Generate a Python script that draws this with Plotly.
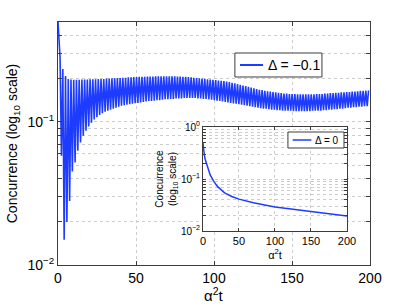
import numpy as np
import plotly.graph_objects as go

# ---------------- data ----------------
# main panel, Delta = -0.1 : alternating local maxima / minima of a fast oscillation
c_start = 0.5          # value at t = 0
t_max0, t_min0, period = 1.325, 2.2, 1.75   # timing of the extrema
c_max = [0.28, 0.235, 0.21, 0.2, 0.198,
         0.197, 0.197, 0.197, 0.198, 0.198, 0.198, 0.199, 0.199, 0.199, 0.2, 0.2, 0.2,
         0.201, 0.201, 0.202, 0.202, 0.203, 0.203, 0.204, 0.204, 0.205, 0.205, 0.206, 0.206,
         0.207, 0.207, 0.207, 0.208, 0.208, 0.208, 0.209, 0.209, 0.209, 0.209, 0.209, 0.209,
         0.209, 0.209, 0.208, 0.208, 0.207, 0.207, 0.206, 0.205, 0.204, 0.203, 0.202, 0.201,
         0.2, 0.199, 0.198, 0.197, 0.196, 0.195, 0.194, 0.193, 0.192, 0.19, 0.188, 0.186,
         0.184, 0.182, 0.18, 0.178, 0.176, 0.174, 0.172, 0.17, 0.168, 0.167, 0.165, 0.164,
         0.163, 0.162, 0.161, 0.16, 0.159, 0.158, 0.158, 0.157, 0.157, 0.157, 0.156, 0.156,
         0.156, 0.156, 0.156, 0.156, 0.156, 0.157, 0.157, 0.157, 0.158, 0.158, 0.159, 0.159,
         0.16, 0.16, 0.161, 0.161, 0.162, 0.162, 0.163, 0.163, 0.164, 0.165, 0.165, 0.166, 0.166]
c_min = [0.058, 0.015, 0.020, 0.028, 0.045, 0.052, 0.063, 0.072, 0.080, 0.087,
         0.093, 0.099, 0.104, 0.108, 0.112, 0.115, 0.118, 0.12, 0.122, 0.124,
         0.126, 0.128, 0.13, 0.131, 0.132, 0.133, 0.134, 0.135, 0.136, 0.137,
         0.138, 0.139, 0.14, 0.14, 0.141, 0.142, 0.142, 0.143, 0.144, 0.144,
         0.145, 0.145, 0.146, 0.146, 0.146, 0.147, 0.147, 0.147, 0.147, 0.147,
         0.146, 0.146, 0.145, 0.145, 0.144, 0.143, 0.142, 0.141, 0.14, 0.139,
         0.138, 0.137, 0.136, 0.135, 0.134, 0.133, 0.132, 0.131, 0.13, 0.129,
         0.128, 0.127, 0.126, 0.125, 0.124, 0.124, 0.123, 0.122, 0.122, 0.121,
         0.121, 0.12, 0.12, 0.12, 0.12, 0.119, 0.119, 0.119, 0.119, 0.119,
         0.119, 0.119, 0.12, 0.12, 0.12, 0.12, 0.121, 0.121, 0.122, 0.122,
         0.123, 0.123, 0.124, 0.124, 0.125, 0.126, 0.126, 0.127, 0.127, 0.128,
         0.128, 0.129, 0.129]

# inset, Delta = 0
t_inset = [0, 0.5, 1, 2, 3, 5, 7, 10, 15, 20, 30, 40, 50, 70, 100, 130, 150, 175, 200]
c_inset = [0.49, 0.40, 0.34, 0.28, 0.24, 0.20, 0.16, 0.12, 0.09, 0.072, 0.054, 0.046,
           0.041, 0.035, 0.029, 0.0255, 0.0235, 0.0215, 0.0195]

main_label = "Δ = −0.1"
inset_label = "Δ = 0"
x_ticks = [0, 50, 100, 150, 200]

# ---------------- build main series ----------------
t_main, c_main = [0.0], [c_start]
for j in range(len(c_max)):
    t_main.append(t_max0 + period * j)
    c_main.append(c_max[j])
    if j < len(c_min):
        t_main.append(t_min0 + period * j)
        c_main.append(c_min[j])

FONT = "Liberation Sans, Arial, Helvetica, sans-serif"
BLUE = "#1e3cff"
AX = "#3c3c3c"
GRID = "#cccccc"


def log_ticks(decades):
    vals, text = [], []
    for d in decades:
        for m in range(1, 10):
            vals.append(m * 10.0 ** d)
            text.append("10<sup>%s</sup>" % (str(d).replace("-", "−")) if m == 1 else " ")
    return vals, text


yv_main, yt_main = log_ticks([-2, -1])
yv_main = yv_main[:14]
yt_main = yt_main[:14]
yv_in, yt_in = log_ticks([-2, -1])
yv_in.append(1.0)
yt_in.append("10<sup>0</sup>")

fig = go.Figure()
fig.add_trace(go.Scatter(x=t_main, y=c_main, mode="lines", name=main_label,
                         line=dict(color=BLUE, width=1.6), showlegend=False))
fig.add_trace(go.Scatter(x=t_inset, y=c_inset, mode="lines", name=inset_label,
                         line=dict(color=BLUE, width=1.5), xaxis="x2", yaxis="y2",
                         showlegend=False))

common = dict(showline=True, linecolor=AX, linewidth=1, mirror="ticks",
              ticks="inside", tickcolor=AX, showgrid=True, gridcolor=GRID,
              griddash="dot", gridwidth=1, zeroline=False, automargin=False)

fig.update_layout(
    width=409, height=304, autosize=False,
    margin=dict(l=58, r=39, t=22, b=39),
    paper_bgcolor="white", plot_bgcolor="white",
    font=dict(family=FONT, color="black"),
    showlegend=False,
    xaxis=dict(range=[0, 200], tickvals=x_ticks, ticklen=4,
               tickfont=dict(size=14), **common),
    yaxis=dict(type="log", range=[-2, np.log10(0.5)], tickvals=yv_main,
               ticktext=yt_main, ticklen=4, tickfont=dict(size=14),
               title=dict(text="Concurrence (log<sub>10</sub> scale)",
                          font=dict(size=14), standoff=6),
               **common),
    xaxis2=dict(domain=[0.4647, 0.9263], anchor="y2", range=[0, 200],
                tickvals=x_ticks, ticklen=3, tickfont=dict(size=11),
                title=dict(text="α<sup>2</sup>t", font=dict(size=11), standoff=0),
                **common),
    yaxis2=dict(domain=[0.1399, 0.5679], anchor="x2", type="log", range=[-2, 0],
                tickvals=yv_in, ticktext=yt_in, ticklen=3, tickfont=dict(size=10),
                title=dict(text="Concurrence<br>(log<sub>10</sub> scale)",
                           font=dict(size=10), standoff=2),
                **common),
)

# main x-axis title, placed tight under the tick labels as in the reference
fig.add_annotation(xref="paper", yref="paper", x=0.5, y=-0.122, text="α<sup>2</sup>t",
                   showarrow=False, xanchor="center", yanchor="middle",
                   font=dict(size=15, color="black"))

# legend boxes drawn by hand (paper coordinates) to match the reference sizes
legends = [
    dict(box=(0.567, 0.7737, 0.846, 0.8724), line=(0.5833, 0.6571), text_x=0.6667,
         label=main_label, size=14, lw=2),
    dict(box=(0.737, 0.4815, 0.9167, 0.5473), line=(0.752, 0.812), text_x=0.818,
         label=inset_label, size=10, lw=1.5),
]
for lg in legends:
    x0, y0, x1, y1 = lg["box"]
    ym = (y0 + y1) / 2
    fig.add_shape(type="rect", xref="paper", yref="paper", x0=x0, y0=y0, x1=x1, y1=y1,
                  line=dict(color=AX, width=1), fillcolor="white", layer="above")
    fig.add_shape(type="line", xref="paper", yref="paper", x0=lg["line"][0], x1=lg["line"][1],
                  y0=ym, y1=ym, line=dict(color=BLUE, width=lg["lw"]), layer="above")
    fig.add_annotation(xref="paper", yref="paper", x=lg["text_x"], y=ym, text=lg["label"],
                       showarrow=False, xanchor="left", yanchor="middle",
                       font=dict(size=lg["size"], color="black"))

fig.write_html("out.html", config={"responsive": False, "displayModeBar": False},
               post_script="document.body.style.margin='0';document.body.style.overflow='hidden';")
